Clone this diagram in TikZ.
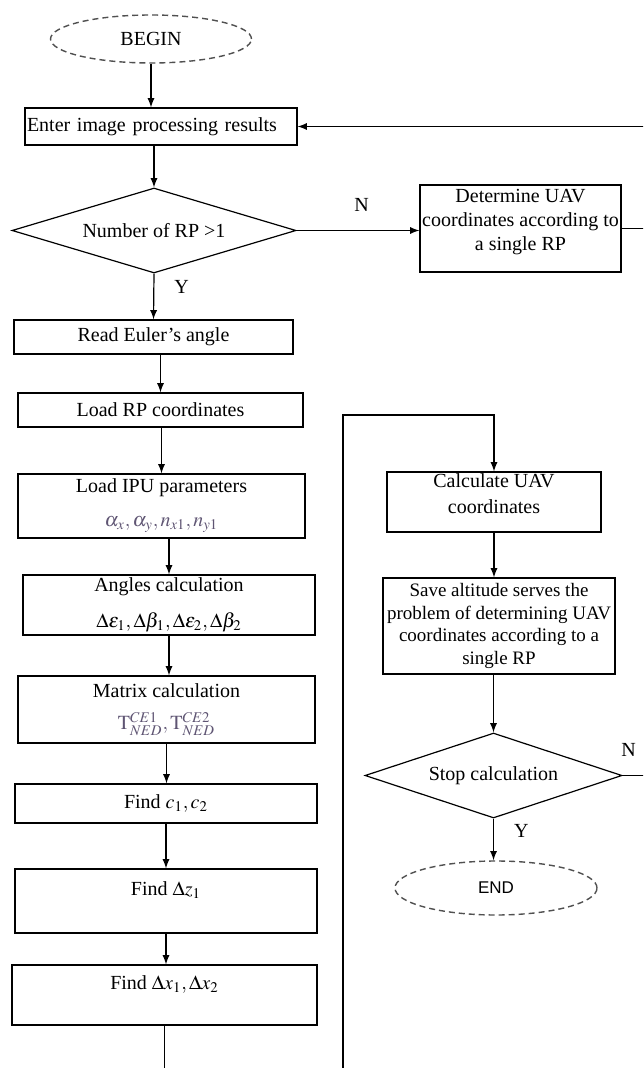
\documentclass[tikz,border=0pt]{standalone}
\usepackage{mathptmx}
\usepackage{fontspec}
\setmainfont{Liberation Serif}
\newfontfamily\endfont{Liberation Sans}
\usetikzlibrary{shapes.geometric}

\definecolor{eqgray}{RGB}{95,85,115}
\definecolor{termgray}{RGB}{80,80,80}

\tikzset{
  proc/.style={draw, rectangle, line width=0.6pt, inner sep=1pt, align=center},
  dec/.style={draw, diamond, line width=0.6pt, inner sep=0pt, aspect=3},
  term/.style={draw=termgray, ellipse, line width=0.7pt, dash pattern=on 3pt off 2pt, inner sep=0pt},
  conn/.style={line width=0.6pt},
  flow/.style={conn, ->},
  yn/.style={inner sep=0pt}
}

\begin{document}
\begin{tikzpicture}[x=0.5pt, y=-0.5pt, >=latex]
\path[use as bounding box, clip] (0,0) rectangle (643,1068);

%Start and input
\node[term, minimum width=100.5pt, minimum height=24pt] (begin) at (151,39) {BEGIN};
\node[proc, align=left, text width=134pt, minimum height=18.5pt] (enter) at (161,126.5) {Enter image processing results};
\node[dec, minimum width=142pt, minimum height=42.5pt] (num) at (154,230.5) {Number of RP >1};
\node[proc, minimum width=100.5pt, minimum height=43.5pt] (det) at (520.5,228.5) {Determine UAV\\coordinates according to\\a single RP\\[-3pt]\mbox{}};

%Left column
\node[proc, minimum width=139.5pt, minimum height=17pt] (read) at (153.5,337) {Read Euler's angle};
\node[proc, minimum width=142.5pt, minimum height=17pt] (loadrp) at (160.5,410) {Load RP coordinates};
\node[proc, minimum width=143.5pt, minimum height=32pt] (ipu) at (161.5,506)
  {Load IPU parameters\\[5pt] \color{eqgray}$\alpha_x, \alpha_y, n_{x1}, n_{y1}$};
\node[proc, minimum width=146pt, minimum height=30pt] (angles) at (169,605)
  {Angles calculation\\[6pt] $\Delta\varepsilon_1, \Delta\beta_1, \Delta\varepsilon_2, \Delta\beta_2$};
\node[proc, minimum width=148.5pt, minimum height=33.5pt] (matrix) at (166.5,709.5)
  {Matrix calculation\\[4pt] \color{eqgray}$\mathrm{T}^{CE1}_{NED}, \mathrm{T}^{CE2}_{NED}$};
\node[proc, minimum width=151pt, minimum height=19.5pt] (findc) at (166,803.5) {Find $c_1, c_2$};
\node[proc, minimum width=151pt, minimum height=32pt] (findz) at (166,901) {Find $\Delta z_1$\\\mbox{}};
\node[proc, minimum width=152.5pt, minimum height=30pt] (findx) at (164.5,995) {Find $\Delta x_1, \Delta x_2$\\\mbox{}};

%Right column
\node[proc, minimum width=107pt, minimum height=30pt] (calc) at (494,502) {Calculate UAV\\[1pt]coordinates\\[-4pt]\mbox{}};
\node[proc, minimum width=116pt, minimum height=48pt, font=\fontsize{9.5}{11.4}\selectfont] (save) at (499,626)
  {Save altitude serves the\\problem of determining UAV\\coordinates according to a\\single RP};
\node[dec, minimum width=128.5pt, minimum height=42.5pt] (stop) at (493.5,775.5) {Stop calculation};
\node[term, minimum width=101pt, minimum height=27pt, font=\endfont\fontsize{8.5}{10}\selectfont] (end) at (496,888) {END};

%Off-page turns
\coordinate (back) at (662,228.5);
\coordinate (jumpB) at (343,1100);
\coordinate (jumpT) at (343,415);

%Arrows
\draw[flow] (begin.south) -- (begin.south |- enter.north);
\draw[flow] (enter.south -| num.north) -- (num.north);
\draw[flow] (num.east) -- (num.east -| det.west) node[yn, pos=0.53, above=9pt] {N};
\draw[flow] (num.south) -- (read.north) node[yn, pos=0.3, right=10pt] {Y};
\draw[flow] (read.south -| loadrp.north) -- (loadrp.north);
\draw[flow] (loadrp.south -| ipu.north) -- (ipu.north);
\draw[flow] (ipu.south -| angles.north) -- (angles.north);
\draw[flow] (angles.south) -- (angles.south |- matrix.north);
\draw[flow] (matrix.south) -- (matrix.south |- findc.north);
\draw[flow] (findc.south) -- (findc.south |- findz.north);
\draw[flow] (findz.south) -- (findz.south |- findx.north);
\draw[flow] (findx.south) |- (jumpB) -- (jumpT) -| (calc.north);
\draw[flow] (calc.south) -- (calc.south |- save.north);
\draw[flow] (save.south -| stop.north) -- (stop.north);
\draw[flow] (stop.south) -- (stop.south |- end.north) node[yn, pos=0.3, right=10pt] {Y};

%Loops back to input
\draw[conn] (det.east) -- (back);
\draw[conn] (stop.east) -| (back) node[yn, pos=0, anchor=south, yshift=9pt, xshift=3pt] {N};
\draw[flow] (back) |- (enter.east);
\end{tikzpicture}
\end{document}
